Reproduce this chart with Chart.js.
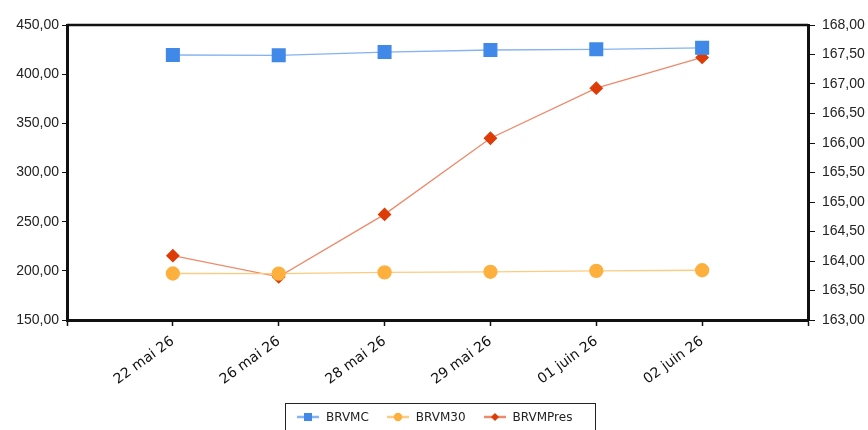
<!DOCTYPE html>
<html>
<head>
<meta charset="utf-8">
<script src="https://cdn.jsdelivr.net/npm/chart.js@4"></script>
<style>
  html, body { margin: 0; padding: 0; background: #fff; }
  #wrap { position: relative; width: 868px; height: 430px; overflow: hidden; }
  #legend {
    position: absolute; left: 285px; top: 403px; width: 311px; height: 34px;
    border: 1.5px solid #222; box-sizing: border-box;
    font-family: "DejaVu Sans", sans-serif; font-size: 12px; color: #222;
    display: flex; align-items: flex-start; padding: 6px 0 0 11px;
  }
  .item { display: flex; align-items: center; margin-right: 18px; }
  .item svg { margin-right: 7px; }
</style>
</head>
<body>
<div id="wrap">
  <canvas id="chart" width="868" height="430"></canvas>
  <div id="legend"></div>
</div>
<script>
// Dates (first and last slots empty, as on the original axis)
const dates = ['', '22 mai 26', '26 mai 26', '28 mai 26', '29 mai 26', '01 juin 26', '02 juin 26', ''];

// Left axis series
const brvmc = [null, 419.5, 419.2, 422.5, 424.6, 425.3, 426.8, null];
const brvm30 = [null, 197.3, 197.2, 198.4, 199.0, 200.0, 200.6, null];

// Right axis series
const brvmPres = [null, 164.09, 163.73, 164.79, 166.08, 166.93, 167.45, null];

const series = [
    { label: 'BRVMC', data: brvmc, axis: 'yLeft', point: 'rect', color: '#4189e8', line: '#86b2f2', radius: 9 },
    { label: 'BRVM30', data: brvm30, axis: 'yLeft', point: 'circle', color: '#fdb03e', line: '#fdcb80', radius: 6.5 },
    { label: 'BRVMPres', data: brvmPres, axis: 'yRight', point: 'rectRot', color: '#dd3c08', line: '#ee8a6c', radius: 6 }
];

// French number format: 450,00
function frNum(v) {
    return Number(v).toFixed(2).replace('.', ',');
}

// Top border of the plot area is thinner than the others
const frameTop = {
    id: 'frameTop',
    afterDraw(chart) {
        const a = chart.chartArea;
        const ctx = chart.ctx;
        ctx.save();
        ctx.strokeStyle = '#111';
        ctx.lineWidth = 2.5;
        ctx.beginPath();
        ctx.moveTo(a.left, a.top);
        ctx.lineTo(a.right, a.top);
        ctx.stroke();
        ctx.restore();
    }
};

const tickFont = { family: '"Liberation Sans", Arial, sans-serif', size: 14 };

new Chart(document.getElementById('chart'), {
    type: 'line',
    data: {
        labels: dates,
        datasets: series.map(s => ({
            label: s.label,
            data: s.data,
            yAxisID: s.axis,
            borderColor: s.line,
            backgroundColor: s.color,
            pointBackgroundColor: s.color,
            pointBorderColor: s.color,
            pointStyle: s.point,
            pointRadius: s.radius,
            borderWidth: 1.3,
            tension: 0
        }))
    },
    options: {
        responsive: false,
        animation: false,
        layout: { padding: { top: 25, left: 0, right: 0, bottom: 0 } },
        plugins: { legend: { display: false }, tooltip: { enabled: false } },
        scales: {
            x: {
                offset: false,
                grid: { drawOnChartArea: false, color: '#111', tickLength: 6, tickWidth: 1.5 },
                border: { color: '#111', width: 3 },
                ticks: {
                    autoSkip: false, minRotation: 36, maxRotation: 36, color: '#111', padding: 7,
                    font: { family: '"DejaVu Sans", Verdana, sans-serif', size: 14 }
                },
                afterFit(scale) { scale.height = 110; }
            },
            yLeft: {
                position: 'left', min: 150, max: 450,
                grid: { drawOnChartArea: false, color: '#111', tickLength: 5 },
                border: { color: '#111', width: 3 },
                ticks: { stepSize: 50, color: '#222', font: tickFont, padding: 3, callback: frNum },
                afterFit(scale) { scale.width = 67; }
            },
            yRight: {
                position: 'right', min: 163, max: 168,
                grid: { drawOnChartArea: false, color: '#111', tickLength: 7 },
                border: { color: '#111', width: 3 },
                ticks: { stepSize: 0.5, color: '#222', font: tickFont, padding: 7, callback: frNum },
                afterFit(scale) { scale.width = 60; }
            }
        }
    },
    plugins: [frameTop]
});

// Legend: line with marker, like the original
function icon(s) {
    let mark;
    if (s.point === 'rect') mark = '<rect x="7" y="2" width="8" height="8" fill="' + s.color + '"/>';
    else if (s.point === 'circle') mark = '<circle cx="11" cy="6" r="4.2" fill="' + s.color + '"/>';
    else mark = '<polygon points="11,2 15,6 11,10 7,6" fill="' + s.color + '"/>';
    return '<svg width="22" height="12"><line x1="0" y1="6" x2="22" y2="6" stroke="' + s.line +
        '" stroke-width="2.5"/>' + mark + '</svg>';
}
document.getElementById('legend').innerHTML = series.map(s =>
    '<span class="item">' + icon(s) + '<span>' + s.label + '</span></span>').join('');
</script>
</body>
</html>
